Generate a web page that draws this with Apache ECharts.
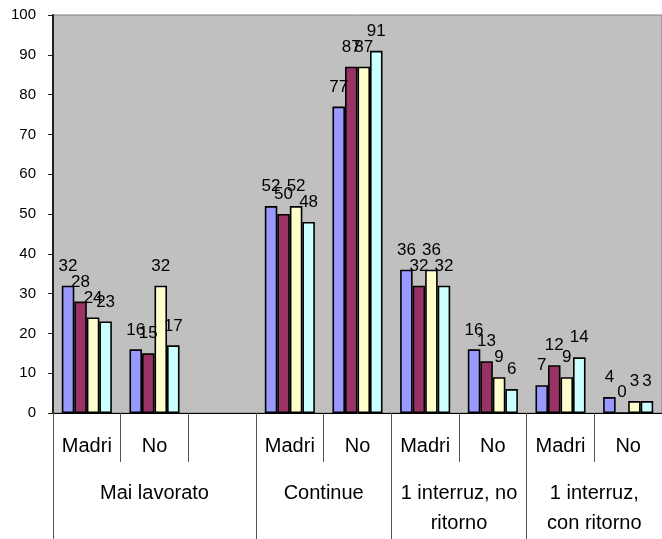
<!DOCTYPE html>
<html>
<head>
<meta charset="utf-8">
<script src="https://cdn.jsdelivr.net/npm/echarts@6/dist/echarts.min.js"></script>
<style>
  html, body { margin: 0; padding: 0; background: #fff; }
  #chart { width: 662px; height: 539px; }
</style>
</head>
<body>
<div id="chart"></div>
<script>
// Sub-categories along the axis (one empty slot after "Mai lavorato")
const subCategories = ['Madri', 'No', '', 'Madri', 'No', 'Madri', 'No', 'Madri', 'No'];

// Group labels, placed on a half-slot axis (19 points, 0..18)
const groupLabels = {
  3: 'Mai lavorato',
  8: 'Continue',
  12: '1 interruz, no\nritorno',
  16: '1 interruz,\ncon ritorno'
};
const groupBoundaries = [0, 6, 10, 14, 18];

// Values for the four series (null = empty slot)
const serie1 = [32, 16, null, 52, 77, 36, 16, 7, 4];
const serie2 = [28, 15, null, 50, 87, 32, 13, 12, 0];
const serie3 = [24, 32, null, 52, 87, 36, 9, 9, 3];
const serie4 = [23, 17, null, 48, 91, 32, 6, 14, 3];

const yTicks = { min: 0, max: 100, interval: 10 };

const colors = ['#9999FF', '#993366', '#FFFFCC', '#CCFFFF'];
const FONT = '"Liberation Sans", Arial, sans-serif';

const halfSlots = Array.from({ length: 19 }, (_, i) => groupLabels[i] || '');

function barSeries(name, data, color) {
  return {
    name: name,
    type: 'bar',
    data: data,
    xAxisIndex: 0,
    barGap: '0%',
    barCategoryGap: '26%',
    itemStyle: { color: color, borderColor: '#000', borderWidth: 1.6 },
    label: {
      show: true,
      position: 'top',
      distance: 11,
      color: '#000',
      fontFamily: FONT,
      fontSize: 17
    }
  };
}

const chart = echarts.init(document.getElementById('chart'), null, { renderer: 'canvas' });
chart.setOption({
  animation: false,
  backgroundColor: '#ffffff',
  grid: {
    left: 53, top: 15, right: -7, bottom: 126,
    show: true,
    backgroundColor: '#C0C0C0',
    borderColor: '#808080',
    borderWidth: 1
  },
  xAxis: [
    {
      type: 'category',
      data: subCategories,
      boundaryGap: true,
      axisLine: { lineStyle: { color: '#000', width: 1 } },
      axisTick: { show: true, interval: 0, length: 49, lineStyle: { color: '#555', width: 1 } },
      axisLabel: {
        interval: 0, margin: 22, color: '#000',
        fontFamily: FONT, fontSize: 20, lineHeight: 22
      }
    },
    {
      type: 'category',
      data: halfSlots,
      boundaryGap: false,
      position: 'bottom',
      axisLine: { show: false },
      axisTick: {
        show: true,
        length: 126,
        interval: function (i) { return groupBoundaries.indexOf(i) >= 0; },
        lineStyle: { color: '#555', width: 1 }
      },
      axisLabel: {
        interval: function (i) { return !!groupLabels[i]; },
        margin: 65, color: '#000',
        fontFamily: FONT, fontSize: 20, lineHeight: 30, align: 'center'
      }
    }
  ],
  yAxis: {
    type: 'value',
    min: yTicks.min, max: yTicks.max, interval: yTicks.interval,
    axisLine: { show: true, lineStyle: { color: '#222', width: 2 } },
    axisTick: { show: true, length: 5, lineStyle: { color: '#222', width: 1 } },
    splitLine: { show: false },
    axisLabel: { margin: 17, color: '#000', fontFamily: FONT, fontSize: 15 }
  },
  series: [
    barSeries('Serie 1', serie1, colors[0]),
    barSeries('Serie 2', serie2, colors[1]),
    barSeries('Serie 3', serie3, colors[2]),
    barSeries('Serie 4', serie4, colors[3])
  ]
});
</script>
</body>
</html>
